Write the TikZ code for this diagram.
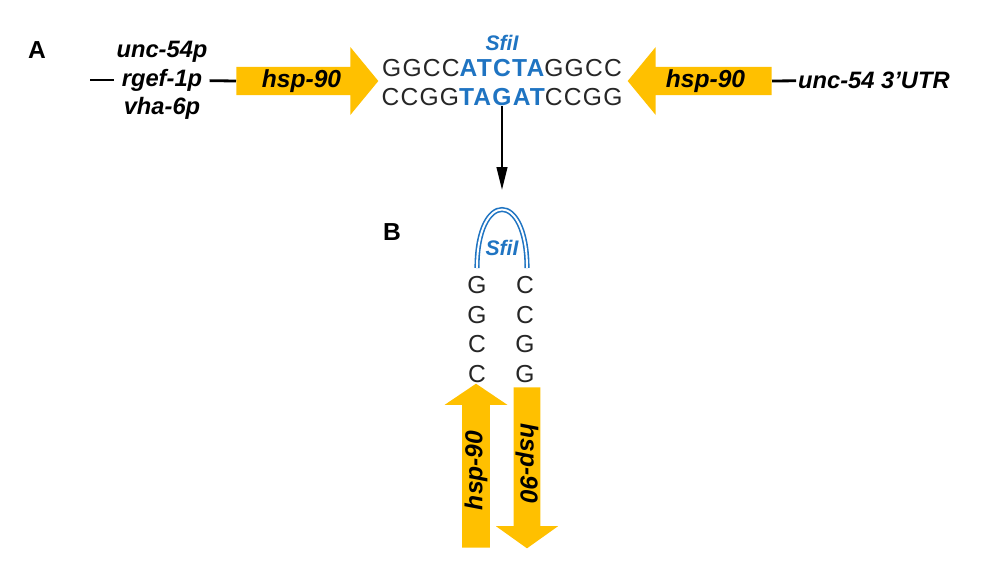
\documentclass[tikz,border=0pt]{standalone}
\usepackage{fontspec}
\setmainfont{Liberation Sans}
\newfontfamily\seqfont[LetterSpace=5]{Liberation Sans}
\usetikzlibrary{shapes.arrows,arrows.meta}
\definecolor{gold}{HTML}{FFC000}
\definecolor{sfiblue}{HTML}{1F74C2}
\definecolor{ink}{HTML}{262626}
\begin{document}
\begin{tikzpicture}[x=0.02cm, y=-0.02cm,
  lbl/.style={font=\fontsize{13.5}{15}\selectfont\bfseries\itshape, inner sep=1pt},
  seq/.style={font=\fontsize{14}{16}\seqfont, text=ink, inner sep=0pt},
  base/.style={font=\fontsize{14}{16}\selectfont, text=ink, inner sep=0pt},
  panel/.style={font=\fontsize{14}{16}\selectfont\bfseries, inner sep=0pt},
  enz/.style={font=\fontsize{12}{14}\selectfont\bfseries\itshape, text=sfiblue, inner sep=0pt},
  gene/.style={single arrow, fill=gold, inner sep=0pt, font=\fontsize{14}{16}\selectfont\bfseries\itshape},
  link/.style={line width=1.6pt}]
  \useasboundingbox (0,0) rectangle (1000,586);
  \node[panel] (pa) at (37,50) {A};
  \node[panel] (pb) at (392,232) {B};
  \node[lbl] (unc) at (162,52) {unc-54p};
  \node[lbl, inner xsep=4pt] (rgef) at (162,80) {rgef-1p};
  \node[lbl] (vha) at (162,108) {vha-6p};
  \node[gene, anchor=tail, minimum height=2.84cm, minimum width=1.36cm,
    single arrow head extend=0.33cm, single arrow tip angle=101] (left) at (236,81) {hsp-90};
  \node[gene, anchor=tail, shape border rotate=180, minimum height=2.88cm, minimum width=1.36cm,
    single arrow head extend=0.33cm, single arrow tip angle=101] (right) at (772,81) {hsp-90};
  \node[lbl, anchor=west] (utr) at (796,80) {unc-54 3’UTR};
  \node[enz] (sfia) at (502,43) {SfiI};
  \node[seq] (top) at (502,68) {GGCC\textcolor{sfiblue}{\bfseries ATCTA}GGCC};
  \node[seq] (bot) at (502,97) {CCGG\textcolor{sfiblue}{\bfseries TAGAT}CCGG};
  \coordinate (lend) at (90,80);
  \coordinate (bend) at (502,190);
  \draw[link] (lend) -- (rgef);
  \draw[link] (rgef) -- (left.tail);
  \draw[link] (right.tail) -- (utr);
  \draw[line width=1.3pt, -{Triangle[length=13pt, width=6pt]}] (bot) -- (bend);
  \foreach \l/\r [count=\i] in {G/C, G/C, C/G, C/G} {
    \node[base] (l\i) at (477,256+29.5*\i) {\l};
    \node[base] (r\i) at (525,256+29.5*\i) {\r};
  }
  \draw[sfiblue, line width=0.9pt, double=white, double distance=1.1pt]
    (477,268) .. controls (477,190) and (527,190) .. (527,268);
  \node[enz] (sfib) at (502,248) {SfiI};
  \node[gene, rotate=90, anchor=tail, minimum height=3.28cm, minimum width=1.26cm,
    single arrow head extend=0.3cm, single arrow tip angle=112] (up) at (476,548) {hsp-90};
  \node[gene, rotate=-90, anchor=tail, minimum height=3.22cm, minimum width=1.24cm,
    single arrow head extend=0.31cm, single arrow tip angle=109] (down) at (527,387) {hsp-90};
\end{tikzpicture}
\end{document}
